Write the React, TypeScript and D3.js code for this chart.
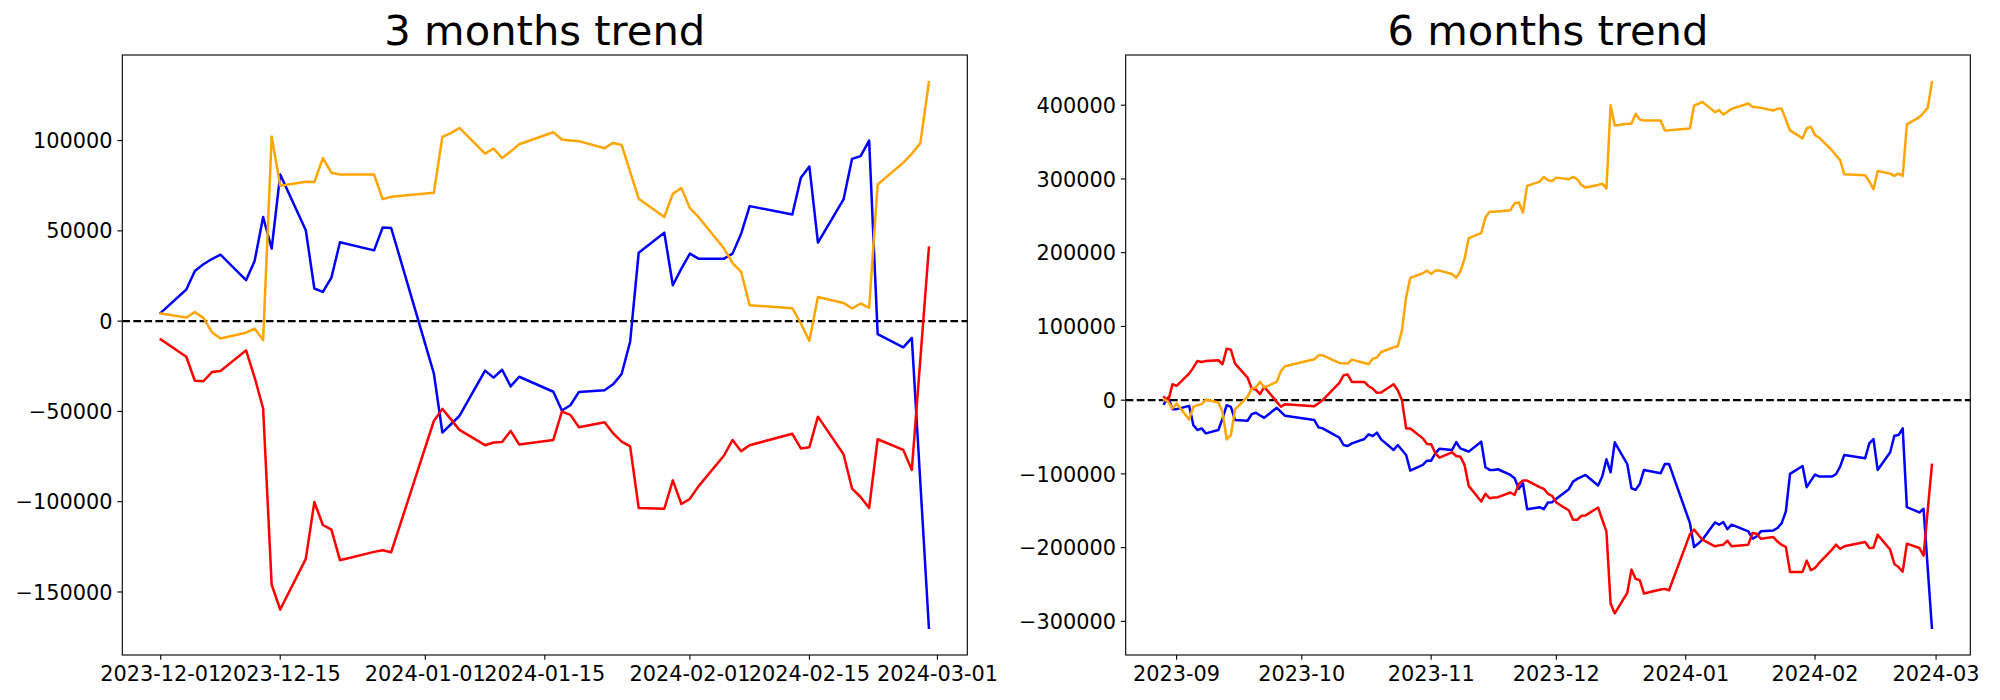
import React from 'react';
import * as d3 from 'd3';

// ---------- 3 months data ----------
const dates3m = [
  '2023-12-01','2023-12-04','2023-12-05','2023-12-06','2023-12-07','2023-12-08',
  '2023-12-11','2023-12-12','2023-12-13','2023-12-14','2023-12-15',
  '2023-12-18','2023-12-19','2023-12-20','2023-12-21','2023-12-22',
  '2023-12-26','2023-12-27','2023-12-28',
  '2024-01-02','2024-01-03','2024-01-04','2024-01-05',
  '2024-01-08','2024-01-09','2024-01-10','2024-01-11','2024-01-12',
  '2024-01-16','2024-01-17','2024-01-18','2024-01-19',
  '2024-01-22','2024-01-23','2024-01-24','2024-01-25','2024-01-26',
  '2024-01-29','2024-01-30','2024-01-31','2024-02-01','2024-02-02',
  '2024-02-05','2024-02-06','2024-02-07','2024-02-08',
  '2024-02-13','2024-02-14','2024-02-15','2024-02-16',
  '2024-02-19','2024-02-20','2024-02-21','2024-02-22','2024-02-23',
  '2024-02-26','2024-02-27','2024-02-28','2024-02-29',
];
const red3m = [
  -10100, -19700, -33000, -33300, -28200, -27600,
  -16200, -31100, -48400, -145900, -159700,
  -131700, -100200, -112900, -115500, -132400,
  -127800, -126900, -128000,
  -55300, -48600, -54400, -60200,
  -68700, -67200, -67000, -60800, -68300,
  -65800, -50100, -51900, -58800,
  -56000, -62100, -66700, -69400, -103500,
  -103900, -88200, -101300, -98400, -91500,
  -74400, -65800, -72000, -68700,
  -62400, -70500, -69800, -52900,
  -73700, -92800, -97400, -103500, -65400,
  -71300, -82400, -21000, 40700,
];
const blue3m = [
  4600, 17500, 27800, 31500, 34400, 36800,
  22700, 33300, 57700, 40200, 81200,
  50300, 18100, 16200, 24100, 43700,
  39200, 51800, 51600,
  -28900, -61700, -57100, -52500,
  -27400, -31300, -26900, -36100, -30800,
  -39100, -49500, -46600, -39200,
  -38300, -35000, -29300, -11400, 37900,
  49000, 19900, 29100, 37400, 34600,
  34600, 37400, 48400, 63700,
  59100, 79400, 85600, 43500,
  67400, 89900, 91400, 100000, -7200,
  -14500, -9300, -89500, -169800,
];
const orange3m = [
  4200, 2000, 5000, 1800, -6100, -9600,
  -6400, -4100, -10500, 102200, 75000,
  77200, 77000, 90300, 82200, 81200,
  81200, 67600, 68900,
  71100, 102000, 104100, 107000,
  92800, 95600, 90300, 93900, 98000,
  104600, 100600, 100000, 99700,
  95800, 98700, 97600, 82700, 67800,
  57700, 70500, 73700, 62600, 57700,
  40200, 32200, 27300, 8800,
  7200, -1300, -10900, 13400,
  10100, 7000, 9800, 7400, 75700,
  87800, 92700, 98600, 132300,
];

// ---------- 6 months data ----------
const dates6m = [
  '2023-08-29','2023-08-30','2023-08-31','2023-09-01',
  '2023-09-04','2023-09-05','2023-09-06','2023-09-07','2023-09-08',
  '2023-09-11','2023-09-12','2023-09-13','2023-09-14','2023-09-15',
  '2023-09-18','2023-09-19','2023-09-20','2023-09-21','2023-09-22',
  '2023-09-25','2023-09-26','2023-09-27',
  '2023-10-04','2023-10-05','2023-10-06',
  '2023-10-10','2023-10-11','2023-10-12','2023-10-13',
  '2023-10-16','2023-10-17','2023-10-18','2023-10-19','2023-10-20',
  '2023-10-23','2023-10-24','2023-10-25','2023-10-26','2023-10-27',
  '2023-10-30','2023-10-31','2023-11-01','2023-11-02','2023-11-03',
  '2023-11-06','2023-11-07','2023-11-08','2023-11-09','2023-11-10',
  '2023-11-13','2023-11-14','2023-11-15','2023-11-16','2023-11-17',
  '2023-11-20','2023-11-21','2023-11-22','2023-11-23','2023-11-24',
  '2023-11-27','2023-11-28','2023-11-29','2023-11-30','2023-12-01',
  '2023-12-04','2023-12-05','2023-12-06','2023-12-07','2023-12-08',
  '2023-12-11','2023-12-12','2023-12-13','2023-12-14','2023-12-15',
  '2023-12-18','2023-12-19','2023-12-20','2023-12-21','2023-12-22',
  '2023-12-26','2023-12-27','2023-12-28',
  '2024-01-02','2024-01-03','2024-01-04','2024-01-05',
  '2024-01-08','2024-01-09','2024-01-10','2024-01-11','2024-01-12',
  '2024-01-16','2024-01-17','2024-01-18','2024-01-19',
  '2024-01-22','2024-01-23','2024-01-24','2024-01-25','2024-01-26',
  '2024-01-29','2024-01-30','2024-01-31','2024-02-01','2024-02-02',
  '2024-02-05','2024-02-06','2024-02-07','2024-02-08',
  '2024-02-13','2024-02-14','2024-02-15','2024-02-16',
  '2024-02-19','2024-02-20','2024-02-21','2024-02-22','2024-02-23',
  '2024-02-26','2024-02-27','2024-02-28','2024-02-29',
];
const red6m = [
  4000, -1000, 21600, 19400,
  36000, 44100, 53200, 51800, 53200,
  54100, 48700, 69800, 68500, 49600,
  30600, 15800, 14400, 8100, 18000,
  -2300, -9000, -5400,
  -8100, -4100, 0,
  23400, 33800, 34700, 24800,
  24800, 18900, 15800, 9900, 10400,
  21600, 13500, 0, -38300, -38300,
  -51800, -59500, -59900, -72100, -77900,
  -70700, -75700, -76600, -87800, -116200,
  -137400, -127000, -132900, -132000, -131500,
  -125200, -128400, -113500, -109000, -109000,
  -118000, -120300, -127000, -129700, -138800,
  -149600, -162200, -162200, -156800, -156300,
  -145500, -162200, -177900, -275700, -289200,
  -261300, -229800, -242400, -244200, -262200,
  -256800, -255900, -257700,
  -182000, -175500, -182500, -189200,
  -198200, -196900, -196000, -190600, -198200,
  -196000, -180200, -181100, -187900,
  -185600, -191700, -196300, -199000, -232900,
  -232900, -217600, -230700, -227500, -220500,
  -203000, -196000, -201800, -198200,
  -192400, -200500, -200000, -182500,
  -202700, -222100, -226400, -232500, -194600,
  -200500, -210800, -149300, -87800,
];
const blue6m = [
  -5000, 3600, -12200, -12200,
  -7700, -33800, -40500, -38300, -45000,
  -40500, -25000, -6800, -9000, -27000,
  -27900, -18900, -17100, -20700, -23900,
  -10400, -15800, -21200,
  -27000, -36900, -38300,
  -50900, -60800, -62200, -58600,
  -52700, -46400, -48700, -44100, -53200,
  -67600, -60800, -67600, -74300, -95500,
  -87800, -82000, -82000, -72100, -65800,
  -67600, -56800, -65300, -67600, -69800,
  -56300, -91000, -94600, -94600, -93700,
  -101400, -105900, -120300, -112600, -147800,
  -145100, -147800, -138800, -138300, -133600,
  -120700, -110400, -106800, -104100, -101400,
  -115800, -103600, -80200, -97800, -57200,
  -86900, -119400, -121600, -113500, -94600,
  -99100, -86500, -86500,
  -166500, -199100, -194500, -189200,
  -165800, -168900, -165300, -174800, -168900,
  -177900, -187900, -184700, -177900,
  -176600, -173400, -166700, -150900, -100000,
  -89200, -118000, -109100, -100800, -103600,
  -103600, -100500, -90100, -74300,
  -78800, -58600, -52700, -94600,
  -70700, -48200, -47300, -38300, -145100,
  -152300, -147300, -228000, -308600,
];
const orange6m = [
  1000, -2300, -11300, -4500,
  -26100, -9000, -6800, -5400, 900,
  -3200, -15800, -53200, -47300, -12600,
  4500, 15800, 17100, 24800, 17100,
  24800, 39600, 46000,
  55400, 60800, 60800,
  50500, 50000, 49600, 55000,
  50500, 48700, 56300, 57700, 65300,
  71600, 73000, 94600, 139700, 165800,
  172100, 175700, 171200, 175700, 175700,
  171200, 165800, 174800, 191500, 219800,
  226600, 247800, 255400, 255400, 255900,
  257700, 267100, 268000, 254500, 290600,
  296400, 302700, 298200, 297300, 301800,
  299600, 302700, 299600, 291900, 288300,
  291900, 293700, 287000, 400000, 372600,
  374800, 374800, 388300, 380700, 379300,
  379300, 365800, 366000,
  368500, 399600, 401800, 404500,
  390600, 393300, 387400, 391000, 395100,
  402300, 397800, 397300, 396400,
  392800, 395500, 395100, 380200, 365800,
  355000, 368500, 370800, 359500, 355900,
  339200, 332000, 325700, 306300,
  305000, 296500, 286100, 310800,
  307200, 304100, 307200, 304100, 373900,
  383800, 389700, 396400, 431100,
];

// ---------- ticks / labels ----------
const yTicks3m = [-150000, -100000, -50000, 0, 50000, 100000];
const yTicks6m = [-300000, -200000, -100000, 0, 100000, 200000, 300000, 400000];
const xTicks3m = ['2023-12-01', '2023-12-15', '2024-01-01', '2024-01-15', '2024-02-01', '2024-02-15', '2024-03-01'];
const xTicks6m = ['2023-09-01', '2023-10-01', '2023-11-01', '2023-12-01', '2024-01-01', '2024-02-01', '2024-03-01'];
const titles = ['3 months trend', '6 months trend'];
const seriesColors = { blue: '#0000ff', red: '#ff0000', orange: '#ffa500' };

const parse = d3.utcParse('%Y-%m-%d');
const FONT = '"DejaVu Sans", Verdana, sans-serif';
const PT = 100 / 72;

type Series = { color: string; values: number[] };

function fmtY(v: number) {
  return v < 0 ? '\u2212' + String(Math.abs(v)) : String(v);
}

function Panel(props: {
  x0: number; x1: number; y0: number; y1: number;
  dates: string[]; series: Series[]; xTicks: string[]; xFmt: string;
  yTicks: number[]; title: string;
}) {
  const { x0, x1, y0, y1, dates, series, xTicks, xFmt, yTicks, title } = props;
  const ds = dates.map((d) => parse(d) as Date);
  const [dmin, dmax] = d3.extent(ds) as [Date, Date];
  const span = +dmax - +dmin;
  const x = d3.scaleUtc()
    .domain([new Date(+dmin - span * 0.05), new Date(+dmax + span * 0.05)])
    .range([x0, x1]);
  const all = series.flatMap((s) => s.values);
  const vmin = d3.min(all) as number;
  const vmax = d3.max(all) as number;
  const vr = vmax - vmin;
  const y = d3.scaleLinear().domain([vmin - vr * 0.05, vmax + vr * 0.05]).range([y1, y0]);
  const line = d3.line<number>()
    .x((_, i) => x(ds[i]))
    .y((v) => y(v));
  const tickLen = 3.5 * PT;
  const pad = 3.5 * PT;
  const fs = 15 * PT;
  const fmt = d3.utcFormat(xFmt);
  return (
    <g>
      <line x1={x0} x2={x1} y1={y(0)} y2={y(0)} stroke="#000" strokeWidth={2.2}
        strokeDasharray={`${3.7 * 1.5 * PT} ${1.6 * 1.5 * PT}`} />
      {series.map((s, i) => (
        <path key={i} d={line(s.values) || ''} fill="none" stroke={s.color}
          strokeWidth={2.5} strokeLinejoin="round" strokeLinecap="square" />
      ))}
      <rect x={x0} y={y0} width={x1 - x0} height={y1 - y0} fill="none" stroke="#000" strokeWidth={0.8 * PT} />
      {xTicks.map((t) => {
        const xx = x(parse(t) as Date);
        return (
          <g key={t}>
            <line x1={xx} x2={xx} y1={y1} y2={y1 + tickLen} stroke="#000" strokeWidth={0.8 * PT} />
            <text x={xx} y={y1 + tickLen + pad + 16.2} textAnchor="middle" fontSize={fs} fontFamily={FONT} fill="#000">
              {fmt(parse(t) as Date)}
            </text>
          </g>
        );
      })}
      {yTicks.map((t) => {
        const yy = y(t);
        return (
          <g key={t}>
            <line x1={x0 - tickLen} x2={x0} y1={yy} y2={yy} stroke="#000" strokeWidth={0.8 * PT} />
            <text x={x0 - tickLen - pad} y={yy + 7.6} textAnchor="end" fontSize={fs} fontFamily={FONT} fill="#000">
              {fmtY(t)}
            </text>
          </g>
        );
      })}
      <text x={(x0 + x1) / 2} y={y0 - 6 * PT - 1.5} textAnchor="middle" fontSize={30 * PT} fontFamily={FONT} fill="#000">
        {title}
      </text>
    </g>
  );
}

export default function App() {
  const s3: Series[] = [
    { color: seriesColors.blue, values: blue3m },
    { color: seriesColors.red, values: red3m },
    { color: seriesColors.orange, values: orange3m },
  ];
  const s6: Series[] = [
    { color: seriesColors.blue, values: blue6m },
    { color: seriesColors.red, values: red6m },
    { color: seriesColors.orange, values: orange6m },
  ];
  return (
    <div style={{ position: 'absolute', left: 0, top: 0, width: 2000, height: 700, background: '#fff' }}>
      <svg width={2000} height={700} viewBox="0 0 2000 700" style={{ display: 'block' }}>
        <rect x={0} y={0} width={2000} height={700} fill="#fff" />
        <Panel x0={122.3} x1={967.3} y0={55} y1={655} dates={dates3m} series={s3}
          xTicks={xTicks3m} xFmt="%Y-%m-%d" yTicks={yTicks3m} title={titles[0]} />
        <Panel x0={1125.7} x1={1970.3} y0={55} y1={655} dates={dates6m} series={s6}
          xTicks={xTicks6m} xFmt="%Y-%m" yTicks={yTicks6m} title={titles[1]} />
      </svg>
    </div>
  );
}
